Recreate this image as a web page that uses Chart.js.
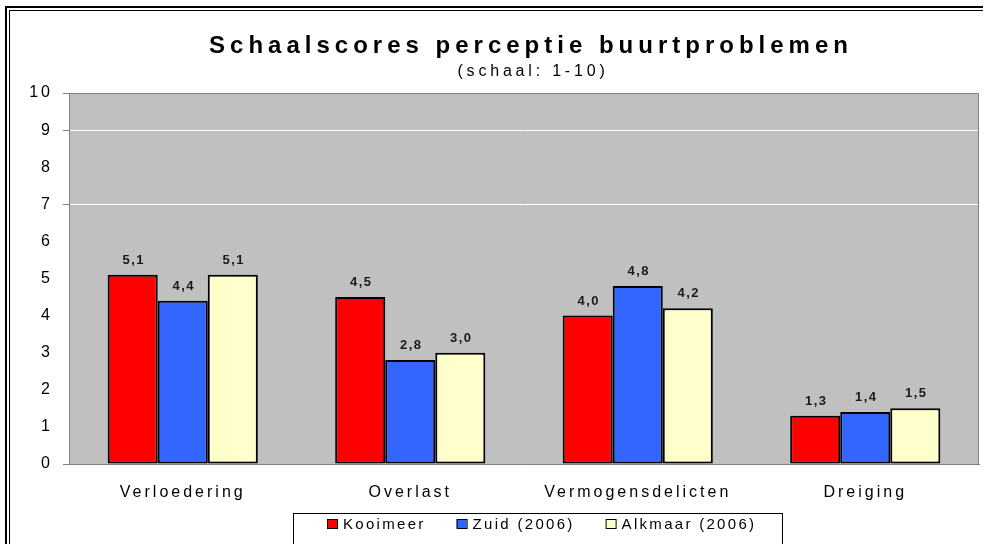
<!DOCTYPE html>
<html>
<head>
<meta charset="utf-8">
<script src="https://cdn.jsdelivr.net/npm/chart.js@4"></script>
<style>
  html, body { margin: 0; padding: 0; background: #fff; overflow: hidden; }
  #wrap { width: 988px; height: 544px; }
  canvas { display: block; }
</style>
</head>
<body>
<div id="wrap"><canvas id="myChart1"></canvas></div>
<script>
// data
const categories = ['Verloedering', 'Overlast', 'Vermogensdelicten', 'Dreiging'];
const seriesNames = ['Kooimeer', 'Zuid (2006)', 'Alkmaar (2006)'];
const kooimeer = [5.1, 4.5, 4.0, 1.3];
const zuid = [4.4, 2.8, 4.8, 1.4];
const alkmaar = [5.1, 3.0, 4.2, 1.5];
const yMin = 0;
const yMax = 10;
const titleText = 'Schaalscores perceptie buurtproblemen';
const subtitleText = '(schaal: 1-10)';

const FONT = 'Arial, "Liberation Sans", sans-serif';
const colors = ['#ff0000', '#3366ff', '#ffffcc'];
const shownGrid = [7, 9]; // only these lines survive in the picture

const fmt = v => v.toFixed(1).replace('.', ',');

// draws background, labels, title, legend and frame
const sketchPlugin = {
    id: 'sketch',
    beforeDraw(chart) {
        const { ctx, chartArea: a } = chart;
        ctx.save();
        ctx.fillStyle = '#c0c0c0';
        ctx.fillRect(a.left, a.top, a.right - a.left, a.bottom - a.top);
        ctx.restore();
        ctx.letterSpacing = '3px';
    },
    beforeDatasetsDraw(chart) {
        const { ctx, chartArea: a } = chart;
        ctx.save();
        ctx.strokeStyle = '#808080';
        ctx.lineWidth = 1;
        ctx.beginPath();
        ctx.moveTo(a.left + 0.5, a.bottom);
        ctx.lineTo(a.left + 0.5, a.top + 0.5);
        ctx.lineTo(a.right - 0.5, a.top + 0.5);
        ctx.lineTo(a.right - 0.5, a.bottom);
        ctx.stroke();
        ctx.restore();
    },
    afterDatasetsDraw(chart) {
        const ctx = chart.ctx;
        ctx.save();
        ctx.letterSpacing = '1.5px';
        ctx.font = 'bold 13px ' + FONT;
        ctx.fillStyle = '#1a1a1a';
        ctx.textAlign = 'center';
        ctx.textBaseline = 'bottom';
        chart.data.datasets.forEach((ds, i) => {
            chart.getDatasetMeta(i).data.forEach((bar, j) => {
                ctx.fillText(fmt(ds.data[j]), bar.x + 1, bar.y - 8);
            });
        });
        ctx.restore();
    },
    afterDraw(chart) {
        const ctx = chart.ctx;
        ctx.save();
        ctx.fillStyle = '#000';
        ctx.textAlign = 'center';
        ctx.textBaseline = 'alphabetic';
        ctx.letterSpacing = '5px';
        ctx.font = 'bold 24px ' + FONT;
        ctx.fillText(titleText, 531, 53);
        ctx.letterSpacing = '3.8px';
        ctx.font = '16px ' + FONT;
        ctx.fillText(subtitleText, 533, 76);

        // legend
        ctx.strokeStyle = '#000';
        ctx.lineWidth = 1;
        ctx.strokeRect(293.5, 513.5, 489, 40);
        ctx.font = '15px ' + FONT;
        ctx.letterSpacing = '2.3px';
        ctx.textAlign = 'left';
        ctx.textBaseline = 'middle';
        let x = 327;
        chart.data.datasets.forEach(ds => {
            ctx.fillStyle = ds.backgroundColor;
            ctx.fillRect(x, 519, 10, 9);
            ctx.strokeRect(x + 0.5, 519.5, 10, 9);
            ctx.fillStyle = '#000';
            ctx.fillText(ds.label, x + 16, 525);
            x += 16 + ctx.measureText(ds.label).width + 31;
        });

        // outer frame (left and top only)
        ctx.fillStyle = '#000';
        ctx.fillRect(5, 6, 978, 2);
        ctx.fillRect(5, 6, 2, 538);
        ctx.fillRect(9, 10, 974, 1);
        ctx.fillRect(9, 10, 1, 534);
        ctx.restore();
    }
};

const data = {
    labels: categories,
    datasets: [kooimeer, zuid, alkmaar].map((vals, i) => ({
        label: seriesNames[i],
        data: vals,
        backgroundColor: colors[i],
        borderColor: '#000',
        borderWidth: 2,
        borderSkipped: false,
        categoryPercentage: 0.66,
        barPercentage: 1
    }))
};

const config = {
    type: 'bar',
    data: data,
    options: {
        responsive: true,
        maintainAspectRatio: false,
        animation: false,
        layout: { padding: { top: 93, right: 9, bottom: 34, left: 0 } },
        plugins: {
            legend: { display: false },
            title: { display: false },
            tooltip: { enabled: false }
        },
        scales: {
            x: {
                grid: { display: false },
                border: { display: true, color: '#808080' },
                ticks: { color: '#000', font: { family: FONT, size: 16 }, padding: 11, maxRotation: 0 },
                afterFit(s) { s.height = 46; }
            },
            y: {
                min: yMin,
                max: yMax,
                ticks: {
                    stepSize: 1,
                    color: '#000',
                    font: { family: FONT, size: 16 },
                    padding: 10
                },
                grid: {
                    color: c => shownGrid.includes(c.tick && c.tick.value) ? '#ffffff' : 'rgba(0,0,0,0)',
                    tickColor: c => {
                        const v = c.tick && c.tick.value;
                        return (v === 0 || v === 10 || shownGrid.includes(v)) ? '#808080' : 'rgba(0,0,0,0)';
                    },
                    tickLength: 6
                },
                border: { display: true, color: '#808080' },
                afterFit(s) { s.width = 69; }
            }
        }
    },
    plugins: [sketchPlugin]
};

const myChart1 = new Chart(document.getElementById('myChart1'), config);
</script>
</body>
</html>
